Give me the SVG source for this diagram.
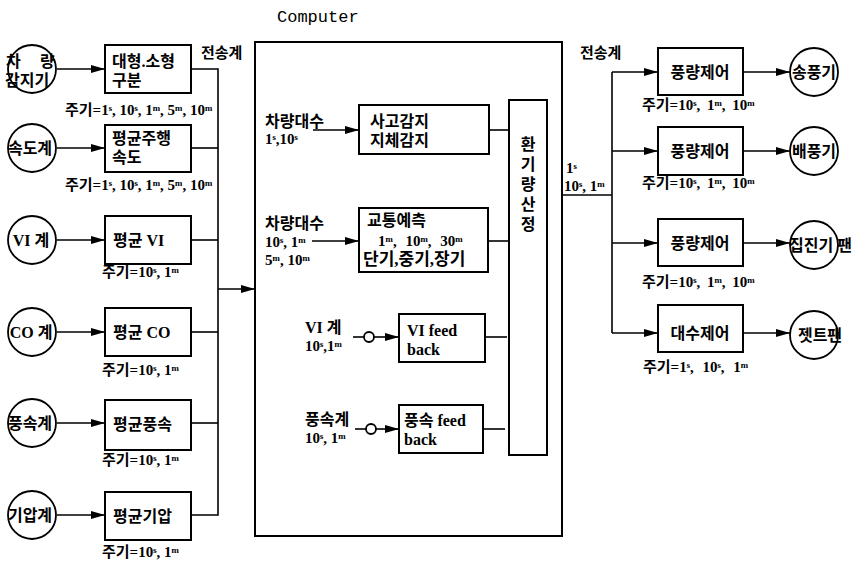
<svg xmlns="http://www.w3.org/2000/svg" width="857" height="564" viewBox="0 0 857 564">
<style>
.box{fill:#fff;stroke:#000;stroke-width:2}
.cir{fill:#fff;stroke:#000;stroke-width:1.8}
.ln{fill:none;stroke:#000;stroke-width:1.6}
.t{font-family:"Liberation Serif","Noto Sans CJK KR",serif;font-weight:700;font-size:16px;fill:#000}
.h{font-family:"Liberation Serif","Noto Sans CJK KR",serif;font-weight:700;font-size:15px;fill:#000}
.s{font-family:"Liberation Serif","Noto Sans CJK KR",serif;font-weight:700;font-size:15px;fill:#000}
.m{text-anchor:middle}
.comp{font-family:"Liberation Mono",monospace;font-size:17px;fill:#000}
</style>
<defs>
<marker id="ah" markerWidth="14" markerHeight="10" refX="14" refY="5" orient="auto" markerUnits="userSpaceOnUse">
<path d="M0,1 L14,5 L0,9 z" fill="#000"/>
</marker>
</defs>
<rect width="857" height="564" fill="#fff"/>

<text class="comp" x="277" y="22">Computer</text>
<text class="h" x="201" y="58">전송계</text>
<text class="h" x="580" y="58">전송계</text>

<g id="computer">
<rect class="box" x="255" y="42" width="307" height="494"/>
</g>

<g id="connectors">
<line class="ln" x1="57" y1="69" x2="105" y2="69" marker-end="url(#ah)"/>
<line class="ln" x1="57" y1="148" x2="105" y2="148" marker-end="url(#ah)"/>
<line class="ln" x1="57" y1="240" x2="105" y2="240" marker-end="url(#ah)"/>
<line class="ln" x1="57" y1="332" x2="105" y2="332" marker-end="url(#ah)"/>
<line class="ln" x1="57" y1="423" x2="105" y2="423" marker-end="url(#ah)"/>
<line class="ln" x1="57" y1="515" x2="105" y2="515" marker-end="url(#ah)"/>
<polyline class="ln" points="191,69 218,69 218,515 191,515"/>
<line class="ln" x1="191" y1="148" x2="218" y2="148"/>
<line class="ln" x1="191" y1="240" x2="218" y2="240"/>
<line class="ln" x1="191" y1="332" x2="218" y2="332"/>
<line class="ln" x1="191" y1="423" x2="218" y2="423"/>
<line class="ln" x1="218" y1="289" x2="255" y2="289" marker-end="url(#ah)"/>
<line class="ln" x1="313" y1="130" x2="359" y2="130" marker-end="url(#ah)"/>
<line class="ln" x1="312" y1="241" x2="359" y2="241" marker-end="url(#ah)"/>
<line class="ln" x1="489" y1="130" x2="509" y2="130"/>
<line class="ln" x1="488" y1="241" x2="509" y2="241"/>
<line class="ln" x1="353" y1="337" x2="364" y2="337"/>
<circle class="cir" cx="369" cy="337" r="5"/>
<line class="ln" x1="374" y1="337" x2="399" y2="337" marker-end="url(#ah)"/>
<line class="ln" x1="485" y1="337" x2="507" y2="337"/>
<line class="ln" x1="355" y1="429" x2="366" y2="429"/>
<circle class="cir" cx="371" cy="429" r="5"/>
<line class="ln" x1="376" y1="429" x2="399" y2="429" marker-end="url(#ah)"/>
<line class="ln" x1="483" y1="429" x2="505" y2="429"/>
<line class="ln" x1="562" y1="195" x2="612" y2="195"/>
<line class="ln" x1="612" y1="72" x2="612" y2="333"/>
<line class="ln" x1="612" y1="72" x2="658" y2="72" marker-end="url(#ah)"/>
<line class="ln" x1="612" y1="151" x2="658" y2="151" marker-end="url(#ah)"/>
<line class="ln" x1="612" y1="243" x2="658" y2="243" marker-end="url(#ah)"/>
<line class="ln" x1="612" y1="333" x2="658" y2="333" marker-end="url(#ah)"/>
<line class="ln" x1="743" y1="72" x2="790" y2="72" marker-end="url(#ah)"/>
<line class="ln" x1="743" y1="151" x2="790" y2="151" marker-end="url(#ah)"/>
<line class="ln" x1="743" y1="243" x2="790" y2="243" marker-end="url(#ah)"/>
<line class="ln" x1="743" y1="333" x2="790" y2="333" marker-end="url(#ah)"/>
</g>

<g id="c1"><circle class="cir" cx="32" cy="69" r="24"/><text class="t" x="6" y="67">차</text><text class="t" x="40" y="67">량</text><text class="t" x="5" y="86">감지기</text></g>
<g id="c2"><circle class="cir" cx="32" cy="148" r="24"/><text class="t m" x="30" y="154">속도계</text></g>
<g id="c3"><circle class="cir" cx="32" cy="240" r="24"/><text class="t m" x="31" y="246">VI 계</text></g>
<g id="c4"><circle class="cir" cx="32" cy="332" r="24"/><text class="t m" x="31" y="338">CO 계</text></g>
<g id="c5"><circle class="cir" cx="32" cy="423" r="24"/><text class="t m" x="30" y="429">풍속계</text></g>
<g id="c6"><circle class="cir" cx="32" cy="515" r="24"/><text class="t m" x="30" y="521">기압계</text></g>

<g id="b1"><rect class="box" x="105" y="45" width="86" height="48"/><text class="t" x="112" y="67">대형.소형</text><text class="t" x="112" y="86">구분</text><text class="s" x="65" y="115">주기=1ˢ, 10ˢ, 1ᵐ, 5ᵐ, 10ᵐ</text></g>
<g id="b2"><rect class="box" x="105" y="125" width="86" height="47"/><text class="t" x="112" y="144">평균주행</text><text class="t" x="112" y="163">속도</text><text class="s" x="65" y="190">주기=1ˢ, 10ˢ, 1ᵐ, 5ᵐ, 10ᵐ</text></g>
<g id="b3"><rect class="box" x="105" y="216" width="86" height="48"/><text class="t" x="113" y="246">평균 VI</text><text class="s" x="102" y="277">주기=10ˢ, 1ᵐ</text></g>
<g id="b4"><rect class="box" x="105" y="308" width="86" height="48"/><text class="t" x="113" y="338">평균 CO</text><text class="s" x="102" y="375">주기=10ˢ, 1ᵐ</text></g>
<g id="b5"><rect class="box" x="105" y="400" width="86" height="50"/><text class="t" x="113" y="430">평균풍속</text><text class="s" x="102" y="465">주기=10ˢ, 1ᵐ</text></g>
<g id="b6"><rect class="box" x="105" y="492" width="86" height="48"/><text class="t" x="113" y="522">평균기압</text><text class="s" x="102" y="557">주기=10ˢ, 1ᵐ</text></g>

<g id="in1"><text class="t" x="265" y="127">차량대수</text><text class="s" x="265" y="144">1ˢ,10ˢ</text></g>
<g id="p1"><rect class="box" x="359" y="105" width="130" height="49"/><text class="t" x="370" y="127">사고감지</text><text class="t" x="370" y="146">지체감지</text></g>
<g id="in2"><text class="t" x="265" y="229">차량대수</text><text class="s" x="265" y="247">10ˢ, 1ᵐ</text><text class="s" x="265" y="265">5ᵐ, 10ᵐ</text></g>
<g id="p2"><rect class="box" x="359" y="208" width="129" height="64"/><text class="t" x="367" y="226">교통예측</text><text class="s" x="378" y="246" word-spacing="5">1ᵐ, 10ᵐ, 30ᵐ</text><text class="t" x="363" y="265" style="font-size:17px">단기,중기,장기</text></g>
<g id="in3"><text class="t" x="305" y="333">VI 계</text><text class="s" x="305" y="351">10ˢ,1ᵐ</text></g>
<g id="p3"><rect class="box" x="399" y="314" width="86" height="48"/><text class="t" x="407" y="336">VI feed</text><text class="t" x="407" y="355">back</text></g>
<g id="in4"><text class="t" x="305" y="425">풍속계</text><text class="s" x="305" y="443">10ˢ, 1ᵐ</text></g>
<g id="p4"><rect class="box" x="399" y="405" width="84" height="48"/><text class="t" x="404" y="426">풍속 feed</text><text class="t" x="404" y="445">back</text></g>
<g id="p5"><rect class="box" x="509" y="100" width="38" height="355"/><text class="t m" x="528" y="150">환</text><text class="t m" x="528" y="170">기</text><text class="t m" x="528" y="190">량</text><text class="t m" x="528" y="210">산</text><text class="t m" x="528" y="230">정</text></g>
<g id="out"><text class="s" x="566" y="173">1ˢ</text><text class="s" x="564" y="191">10ˢ, 1ᵐ</text></g>

<g id="r1"><rect class="box" x="658" y="48" width="85" height="47"/><text class="t m" x="700" y="78">풍량제어</text><text class="s" x="642" y="110" word-spacing="3">주기=10ˢ, 1ᵐ, 10ᵐ</text></g>
<g id="r2"><rect class="box" x="658" y="127" width="85" height="48"/><text class="t m" x="700" y="157">풍량제어</text><text class="s" x="642" y="188" word-spacing="3">주기=10ˢ, 1ᵐ, 10ᵐ</text></g>
<g id="r3"><rect class="box" x="658" y="219" width="85" height="47"/><text class="t m" x="700" y="249">풍량제어</text><text class="s" x="642" y="287" word-spacing="3">주기=10ˢ, 1ᵐ, 10ᵐ</text></g>
<g id="r4"><rect class="box" x="658" y="305" width="85" height="47"/><text class="t m" x="700" y="339">대수제어</text><text class="s" x="643" y="372" word-spacing="5">주기=1ˢ, 10ˢ, 1ᵐ</text></g>

<g id="a1"><circle class="cir" cx="814" cy="72" r="24"/><text class="t m" x="814" y="78">송풍기</text></g>
<g id="a2"><circle class="cir" cx="814" cy="151" r="24"/><text class="t m" x="814" y="157">배풍기</text></g>
<g id="a3"><circle class="cir" cx="814" cy="245" r="24"/><text class="t" x="789" y="251">집진기 팬</text></g>
<g id="a4"><circle class="cir" cx="814" cy="335" r="24"/><text class="t m" x="820" y="341">젯트팬</text></g>
</svg>
